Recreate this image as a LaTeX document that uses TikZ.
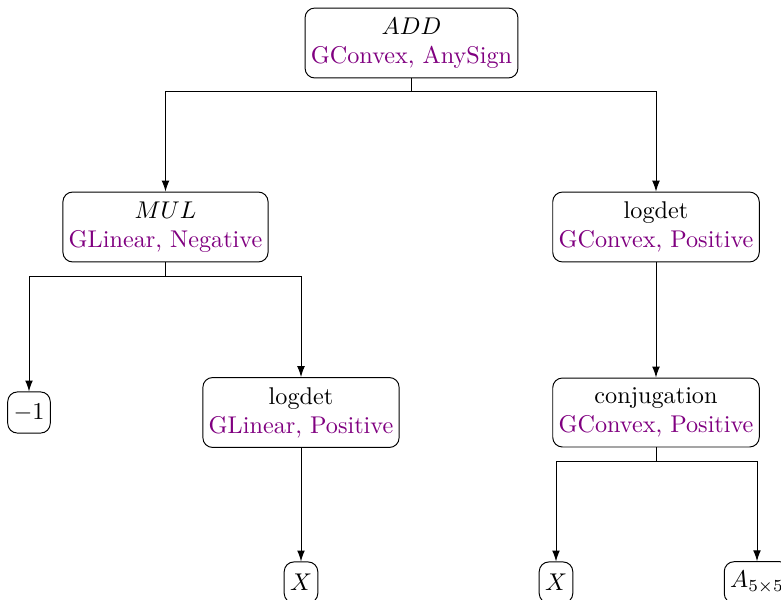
\documentclass[tikz,border=0pt]{standalone}
\usetikzlibrary{arrows.meta}
\definecolor{lbl}{RGB}{128,0,128}
\begin{document}
\begin{tikzpicture}[x=0.4132pt,y=-0.4132pt,
  tnode/.style={draw,rounded corners=4pt,align=center,inner xsep=2.4pt,inner ysep=4pt,minimum height=17pt,line width=0.4pt},
  edge/.style={-{Latex[length=4.5pt,width=3.2pt]},line width=0.4pt},
  plain/.style={line width=0.4pt}]
\useasboundingbox (0,0) rectangle (781,600);
\node[tnode] (add) at (411.5,43) {$ADD$\\\textcolor{lbl}{GConvex, AnySign}};
\node[tnode] (mul) at (165.5,227) {$MUL$\\\textcolor{lbl}{GLinear, Negative}};
\node[tnode] (ld1) at (656,227) {logdet\\\textcolor{lbl}{GConvex, Positive}};
\node[tnode] (m1) at (29,412.5) {$-1$};
\node[tnode] (ld2) at (301,412.5) {logdet\\\textcolor{lbl}{GLinear, Positive}};
\node[tnode] (conj) at (656,412.5) {conjugation\\\textcolor{lbl}{GConvex, Positive}};
\node[tnode] (x1) at (301,582.5) {$X$};
\node[tnode] (x2) at (556,582.5) {$X$};
\node[tnode] (a55) at (757,582.5) {$A_{5\times5}$};
\draw[edge] (add.south) -- ++(0,13) -| (mul.north);
\draw[edge] (add.south) -- ++(0,13) -| (ld1.north);
\draw[edge] (mul.south) -- ++(0,14) -| (m1.north);
\draw[edge] (mul.south) -- ++(0,14) -| (ld2.north);
\draw[edge] (ld1.south) -- (conj.north);
\draw[edge] (ld2.south) -- (x1.north);
\draw[edge] (conj.south) -- ++(0,14) -| (x2.north);
\draw[edge] (conj.south) -- ++(0,14) -| (a55.north);
\end{tikzpicture}
\end{document}
